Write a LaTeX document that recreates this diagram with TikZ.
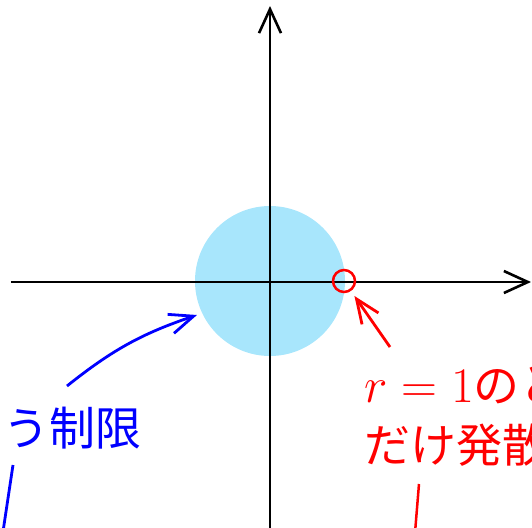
\documentclass[tikz,border=0pt]{standalone}
\usepackage{fontspec}
\newfontfamily\jpfont{Noto Sans CJK JP}
\usetikzlibrary{positioning, arrows.meta}

\definecolor{diskblue}{RGB}{168,230,252}

\tikzset{
  axis/.style={line width=1.3pt, -{Straight Barb[length=12pt, width=11pt]}},
  pointer/.style={line width=1.4pt, -{Straight Barb[length=12pt, width=10pt]}},
  note/.style={font=\jpfont\fontsize{23}{29}\selectfont, inner sep=0pt, align=left},
}

\begin{document}
\begin{tikzpicture}[x=0.5pt, y=-0.5pt]
  \useasboundingbox (0,0) rectangle (532,527);
  \clip (0,0) rectangle (532,527);

  % Draw the disk.
  \fill[diskblue] (270,281) circle[radius=75];

  % Draw the axes.
  \coordinate (xl) at (11,282); \coordinate (xr) at (531,282);
  \coordinate (yb) at (270,540); \coordinate (yt) at (270,6);
  \draw[axis] (xl) -- (xr);
  \draw[axis] (yb) -- (yt);

  % Mark the point r = 1 on the boundary.
  \node[draw=red, circle, line width=1.25pt, minimum size=11pt, inner sep=0pt]
    (pole) at (344,281) {};

  % Draw the red note and its arrows.
  \node[note, text=red, anchor=north west] (diverge) at (364,366)
    {$r=1$のと\\[1pt]だけ発散};
  \coordinate (rtail) at (390,347);
  \draw[pointer, red, shorten >=3pt] (rtail) -- (pole);
  \coordinate (rdown) at (419,484); \coordinate (rend) at (414,545);
  \draw[red, line width=1.25pt] (rdown) -- (rend);

  % Draw the blue note and its arrows.
  \node[note, text=blue, anchor=base east] (limit) at (142,445) {いう制限};
  \coordinate (btail) at (67,386); \coordinate (btip) at (197,315);
  \draw[pointer, blue] (btail) to[bend left=10] (btip);
  \coordinate (bdown) at (13,465); \coordinate (bend) at (1,545);
  \draw[blue, line width=1.4pt] (bdown) -- (bend);
\end{tikzpicture}
\end{document}
